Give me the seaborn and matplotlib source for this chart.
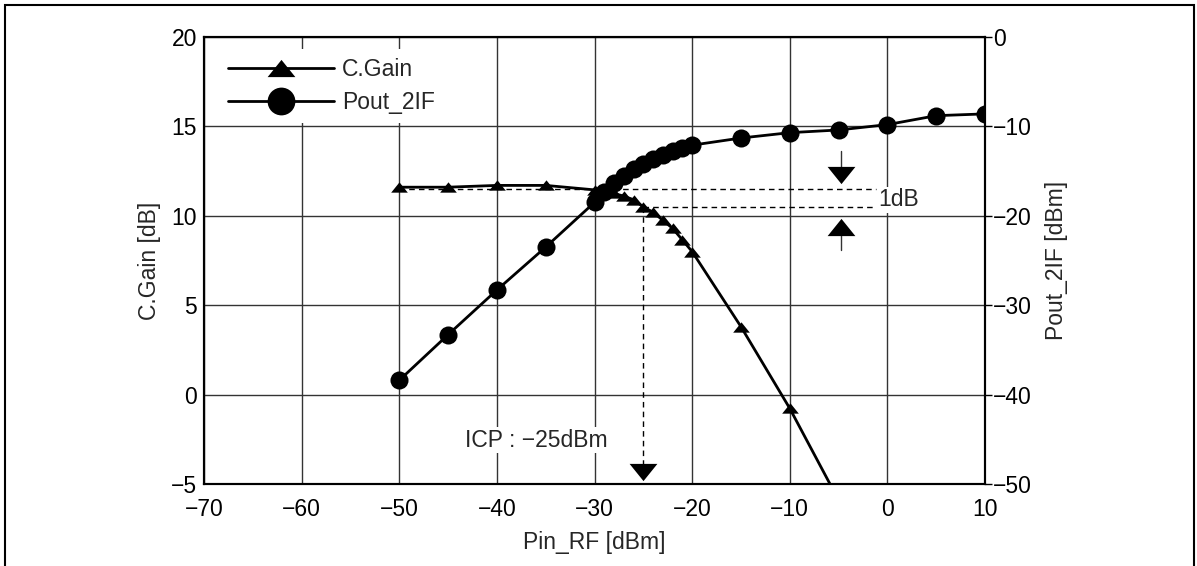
import matplotlib
matplotlib.use("Agg")
import matplotlib.pyplot as plt
import seaborn as sns
import pandas as pd
import numpy as np
from matplotlib.lines import Line2D
from matplotlib.patches import Rectangle

# ---- data ----
pin_gain = [-50, -45, -40, -35, -30, -29, -28, -27, -26, -25, -24, -23, -22, -21, -20, -15, -10, -5]
cgain = [11.6, 11.6, 11.7, 11.7, 11.45, 11.35, 11.25, 11.1, 10.9, 10.5, 10.2, 9.75, 9.3, 8.65, 8.0, 3.8, -0.77, -5.9]

pin_pout = [-50, -45, -40, -35, -30, -29, -28, -27, -26, -25, -24, -23, -22, -21, -20, -15, -10, -5, 0, 5, 10]
pout = [-38.4, -33.3, -28.3, -23.5, -18.5, -17.3, -16.3, -15.5, -14.8, -14.2, -13.7, -13.2, -12.8, -12.4, -12.1,
        -11.3, -10.7, -10.4, -9.8, -8.8, -8.6]

x_ticks = [-70, -60, -50, -40, -30, -20, -10, 0, 10]
gain_ticks = [-5, 0, 5, 10, 15, 20]
pout_ticks = [-50, -40, -30, -20, -10, 0]

series_labels = ["C.Gain", "Pout_2IF"]
icp_x = -25
gain_ref = 11.5
gain_1db = 10.5
arrow_x = -4.7

FS = 16.5

sns.set_theme(style="white")
plt.rcParams["font.family"] = ["Liberation Sans", "DejaVu Sans"]
plt.rcParams["axes.unicode_minus"] = True

fig = plt.figure(figsize=(11.97, 5.66), dpi=100)
ax = fig.add_axes([204/1197, 1-484/566, (985-204)/1197, (484-37)/566])
ax2 = ax.twinx()

tri = [(0, 0.62), (-1, -0.62), (1, -0.62)]
tri_dn = [(0, -0.62), (-1, 0.62), (1, 0.62)]

df_g = pd.DataFrame({"pin": pin_gain, "gain": cgain})
df_p = pd.DataFrame({"pin": pin_pout, "pout": pout})

sns.lineplot(data=df_g, x="pin", y="gain", ax=ax, color="black", linewidth=2,
             marker=tri, markersize=12, markeredgewidth=0, markerfacecolor="black", zorder=3)
sns.lineplot(data=df_p, x="pin", y="pout", ax=ax2, color="black", linewidth=2,
             marker="o", markersize=13, markeredgewidth=0, markerfacecolor="black", zorder=3)

ax.set_xlim(-70, 10)
ax.set_ylim(-5, 20)
ax2.set_ylim(-50, 0)
ax.set_xticks(x_ticks)
ax.set_yticks(gain_ticks)
ax2.set_yticks(pout_ticks)

ax.grid(True, color="#333333", linewidth=1)
ax.set_axisbelow(True)
ax.tick_params(axis="x", length=0, labelsize=FS, pad=10, colors="black")
ax.tick_params(axis="y", length=0, labelsize=FS, pad=5, colors="black")
ax2.tick_params(axis="y", length=5, width=1, direction="out", labelsize=FS, pad=0.5, colors="black")

for a in (ax, ax2):
    for s in a.spines.values():
        s.set_color("black")
        s.set_linewidth(1.5)

ax.set_xlabel("Pin_RF [dBm]", fontsize=FS, labelpad=7)
ax.set_ylabel("C.Gain [dB]", fontsize=FS, labelpad=7)
ax2.set_ylabel("Pout_2IF [dBm]", fontsize=FS, labelpad=10)

# ---- 1dB compression annotations ----
dash = (0, (4, 3))
ax.plot([-50, -1.2], [gain_ref, gain_ref], color="black", lw=1, linestyle=dash, zorder=2)
ax.plot([icp_x, -1.2], [gain_1db, gain_1db], color="black", lw=1, linestyle=dash, zorder=2)
ax.plot([icp_x, icp_x], [gain_1db, -4.0], color="black", lw=1, linestyle=dash, zorder=2)
ax.plot([icp_x], [-4.35], marker=tri_dn, markersize=20, color="black", markeredgewidth=0, zorder=4)
ax.plot([arrow_x, arrow_x], [13.6, 12.6], color="#333333", lw=1, zorder=2)
ax.plot([arrow_x], [12.28], marker=tri_dn, markersize=20, color="black", markeredgewidth=0, zorder=4)
ax.plot([arrow_x, arrow_x], [9.2, 8.1], color="#333333", lw=1, zorder=2)
ax.plot([arrow_x], [9.39], marker=tri, markersize=20, color="black", markeredgewidth=0, zorder=4)
ax.text(-0.9, 10.9, "1dB", fontsize=FS, va="center", ha="left",
        bbox=dict(facecolor="white", edgecolor="none", pad=1), zorder=5)
ax.text(-43.3, -2.55, "ICP : \u221225dBm", fontsize=FS, va="center", ha="left",
        bbox=dict(facecolor="white", edgecolor="none", pad=1), zorder=5)

# ---- legend ----
handles = [
    Line2D([], [], color="black", lw=2, marker=tri, markersize=20, markeredgewidth=0),
    Line2D([], [], color="black", lw=2, marker="o", markersize=20, markeredgewidth=0),
]
leg = ax2.legend(handles, series_labels, loc="upper left", bbox_to_anchor=(0.0186, 0.974),
                 frameon=True, facecolor="white", edgecolor="none", framealpha=1,
                 handlelength=4.65, handletextpad=0.35, fontsize=FS, labelspacing=0.45,
                 borderaxespad=0, borderpad=0.4, fancybox=False)
leg.set_zorder(10)

# outer frame
fig.patches.append(Rectangle((5/1197, -0.05), (1194-5)/1197, 1.05 - 5/566, transform=fig.transFigure,
                             fill=False, edgecolor="black", linewidth=1.5))

fig.savefig("out.png", dpi=100)
